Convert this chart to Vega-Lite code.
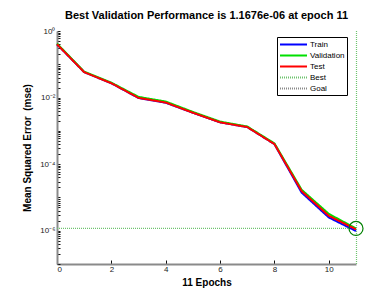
{
  "$schema": "https://vega.github.io/schema/vega-lite/v6.json",
  "width": 299,
  "height": 233,
  "autosize": {"type": "none"},
  "padding": {"left": 57, "top": 31, "right": 34, "bottom": 34},
  "background": "white",
  "title": {
    "text": "Best Validation Performance is 1.1676e-06 at epoch 11",
    "font": "Liberation Sans",
    "fontSize": 11,
    "fontWeight": "bold",
    "color": "#000",
    "anchor": "middle",
    "offset": 6
  },
  "config": {
    "view": {"stroke": null},
    "axis": {
      "grid": false,
      "domainColor": "#8a8a8a",
      "domainWidth": 2,
      "tickColor": "#111",
      "tickWidth": 1,
      "labelFont": "Liberation Sans",
      "labelFontSize": 8,
      "labelColor": "#222",
      "titleFont": "Liberation Sans",
      "titleFontSize": 10,
      "titleFontWeight": "bold",
      "titleColor": "#000"
    }
  },
  "datasets": {
    "perf": [
      {"series": "Train", "epoch": 0, "mse": 0.40},
      {"series": "Train", "epoch": 1, "mse": 0.058},
      {"series": "Train", "epoch": 2, "mse": 0.027},
      {"series": "Train", "epoch": 3, "mse": 0.0097},
      {"series": "Train", "epoch": 4, "mse": 0.0070},
      {"series": "Train", "epoch": 5, "mse": 0.0035},
      {"series": "Train", "epoch": 6, "mse": 0.0018},
      {"series": "Train", "epoch": 7, "mse": 0.0013},
      {"series": "Train", "epoch": 8, "mse": 0.00040},
      {"series": "Train", "epoch": 9, "mse": 0.000014},
      {"series": "Train", "epoch": 10, "mse": 0.0000025},
      {"series": "Train", "epoch": 11, "mse": 0.00000098},
      {"series": "Validation", "epoch": 0, "mse": 0.42},
      {"series": "Validation", "epoch": 1, "mse": 0.060},
      {"series": "Validation", "epoch": 2, "mse": 0.028},
      {"series": "Validation", "epoch": 3, "mse": 0.0105},
      {"series": "Validation", "epoch": 4, "mse": 0.0076},
      {"series": "Validation", "epoch": 5, "mse": 0.0037},
      {"series": "Validation", "epoch": 6, "mse": 0.0019},
      {"series": "Validation", "epoch": 7, "mse": 0.00135},
      {"series": "Validation", "epoch": 8, "mse": 0.00042},
      {"series": "Validation", "epoch": 9, "mse": 0.000017},
      {"series": "Validation", "epoch": 10, "mse": 0.0000032},
      {"series": "Validation", "epoch": 11, "mse": 0.0000011676},
      {"series": "Test", "epoch": 0, "mse": 0.40},
      {"series": "Test", "epoch": 1, "mse": 0.058},
      {"series": "Test", "epoch": 2, "mse": 0.027},
      {"series": "Test", "epoch": 3, "mse": 0.0098},
      {"series": "Test", "epoch": 4, "mse": 0.0071},
      {"series": "Test", "epoch": 5, "mse": 0.0035},
      {"series": "Test", "epoch": 6, "mse": 0.0018},
      {"series": "Test", "epoch": 7, "mse": 0.0013},
      {"series": "Test", "epoch": 8, "mse": 0.00040},
      {"series": "Test", "epoch": 9, "mse": 0.0000155},
      {"series": "Test", "epoch": 10, "mse": 0.0000028},
      {"series": "Test", "epoch": 11, "mse": 0.0000011}
    ],
    "hline": [
      {"series": "Best", "epoch": 0, "epoch2": 11, "mse": 0.0000011676}
    ],
    "vline": [
      {"series": "Best", "epoch": 11, "mse": 0.0000001, "mse2": 1}
    ],
    "best": [
      {"epoch": 11, "mse": 0.0000011676}
    ]
  },
  "encoding": {
    "x": {
      "field": "epoch",
      "type": "quantitative",
      "scale": {"domain": [0, 11], "nice": false, "zero": false},
      "axis": {
        "title": "11 Epochs",
        "values": [0, 2, 4, 6, 8, 10],
        "tickSize": -4,
        "labelPadding": 5,
        "titlePadding": 4
      }
    },
    "y": {
      "field": "mse",
      "type": "quantitative",
      "scale": {"type": "log", "domain": [0.0000001, 1], "nice": false},
      "axis": {
        "title": "Mean Squared Error\u00a0 (mse)",
        "values": [1e-7, 2e-7, 3e-7, 4e-7, 5e-7, 6e-7, 7e-7, 8e-7, 9e-7,
                   1e-6, 2e-6, 3e-6, 4e-6, 5e-6, 6e-6, 7e-6, 8e-6, 9e-6,
                   1e-5, 2e-5, 3e-5, 4e-5, 5e-5, 6e-5, 7e-5, 8e-5, 9e-5,
                   1e-4, 2e-4, 3e-4, 4e-4, 5e-4, 6e-4, 7e-4, 8e-4, 9e-4,
                   1e-3, 2e-3, 3e-3, 4e-3, 5e-3, 6e-3, 7e-3, 8e-3, 9e-3,
                   1e-2, 2e-2, 3e-2, 4e-2, 5e-2, 6e-2, 7e-2, 8e-2, 9e-2,
                   1e-1, 2e-1, 3e-1, 4e-1, 5e-1, 6e-1, 7e-1, 8e-1, 9e-1, 1],
        "labelExpr": "datum.value == 1 ? '10⁰' : datum.value == 1e-2 ? '10⁻²' : datum.value == 1e-4 ? '10⁻⁴' : datum.value == 1e-6 ? '10⁻⁶' : ''",
        "tickSize": -3,
        "labelPadding": 5,
        "labelOverlap": false,
        "titlePadding": 7
      }
    }
  },
  "layer": [
    {
      "data": {"name": "hline"},
      "mark": {"type": "rule", "strokeWidth": 1.2},
      "encoding": {
        "x2": {"field": "epoch2"},
        "color": {
          "field": "series",
          "type": "nominal",
          "scale": {
            "domain": ["Train", "Validation", "Test", "Best", "Goal"],
            "range": ["#0000ff", "#00e000", "#ff0000", "#6fc46f", "#8a8a8a"]
          }
        },
        "strokeDash": {
          "field": "series",
          "type": "nominal",
          "scale": {
            "domain": ["Train", "Validation", "Test", "Best", "Goal"],
            "range": [[1, 0], [1, 0], [1, 0], [1, 1], [1, 1]]
          }
        }
      }
    },
    {
      "data": {"name": "vline"},
      "mark": {"type": "rule", "strokeWidth": 1.2, "xOffset": 0.5},
      "encoding": {
        "y2": {"field": "mse2"},
        "color": {"field": "series", "type": "nominal"},
        "strokeDash": {"field": "series", "type": "nominal"}
      }
    },
    {
      "data": {"name": "perf"},
      "mark": {"type": "line", "strokeWidth": 2},
      "encoding": {
        "color": {
          "field": "series",
          "type": "nominal",
          "legend": {
            "title": null,
            "orient": "none",
            "legendX": 220,
            "legendY": 6,
            "strokeColor": "#000",
            "fillColor": "#fff",
            "padding": 2,
            "rowPadding": 1,
            "symbolType": "M-1,0H5",
            "symbolSize": 81,
            "symbolStrokeWidth": 2,
            "labelOffset": 20,
            "labelFont": "Liberation Sans",
            "labelFontSize": 8,
            "labelColor": "#000"
          }
        },
        "strokeDash": {
          "field": "series",
          "type": "nominal"
        }
      }
    },
    {
      "data": {"name": "best"},
      "mark": {"type": "point", "shape": "circle", "filled": false, "size": 196, "stroke": "#008000", "strokeWidth": 1.2, "opacity": 1}
    }
  ]
}
